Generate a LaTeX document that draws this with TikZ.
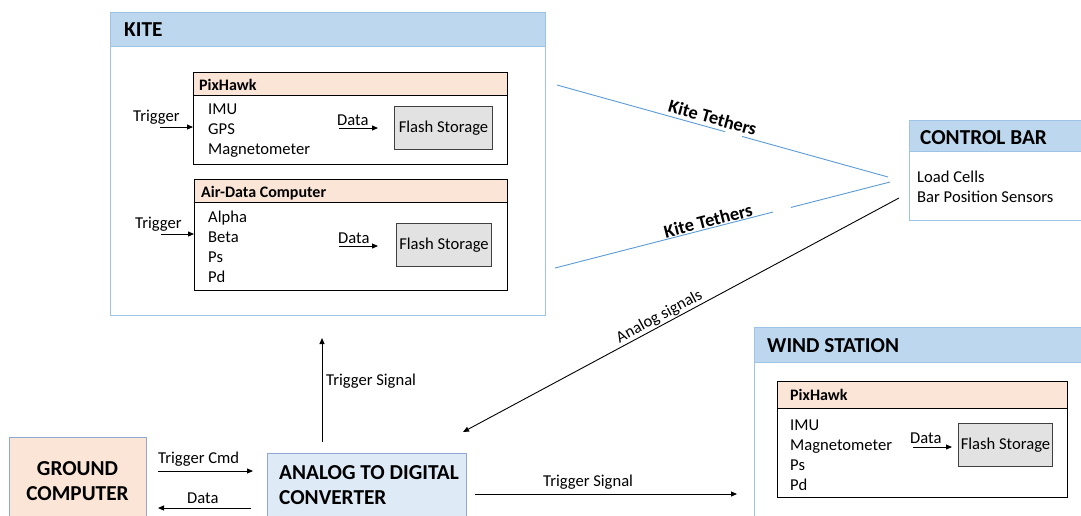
\documentclass[tikz,border=0pt]{standalone}
\usepackage{fontspec}
\setmainfont{Carlito}
\usetikzlibrary{arrows.meta,calc}
\definecolor{headblue}{HTML}{BDD7EE}
\definecolor{panelline}{HTML}{9DC3E6}
\definecolor{peach}{HTML}{FBE5D6}
\definecolor{flashgray}{HTML}{E2E2E2}
\definecolor{flashline}{HTML}{404040}
\definecolor{adcfill}{HTML}{DEEBF7}
\definecolor{adcline}{HTML}{8EA9D4}
\definecolor{tether}{HTML}{5B9BD5}
\tikzset{
  panel/.style={draw=panelline, fill=white, line width=1pt, anchor=north west, inner sep=0pt},
  panelhead/.style={draw=panelline, fill=headblue, line width=1pt, anchor=north west, inner sep=0pt},
  unit/.style={draw=black, fill=white, line width=1.2pt, anchor=north west, inner sep=0pt},
  unithead/.style={draw=black, fill=peach, line width=1.2pt, anchor=north west, inner sep=0pt},
  flashbox/.style={draw=flashline, fill=flashgray, line width=1pt, anchor=north west, inner sep=0pt, font=\fontsize{16.6}{20}\selectfont},
  txt/.style={anchor=base west, inner sep=0pt, font=\fontsize{16.6}{20}\selectfont},
  ttl/.style={anchor=base west, inner sep=0pt, font=\bfseries\fontsize{21.3}{25}\selectfont},
  hdr/.style={anchor=base west, inner sep=0pt, font=\bfseries\fontsize{16}{20}\selectfont},
  arr/.style={line width=0.9pt, -{Triangle[length=6pt,width=5pt]}},
  tline/.style={draw=tether, line width=0.9pt},
  tlabel/.style={font=\bfseries\fontsize{18.5}{22}\selectfont, inner sep=1pt, sloped},
}
\begin{document}
\begin{tikzpicture}[x=1pt,y=-1pt]
\useasboundingbox (0,0) rectangle (1081,515);
\clip (0,0) rectangle (1081,515);

% ---------- KITE ----------
\node[panel, minimum width=435pt, minimum height=303pt] (kite) at (110,12) {};
\node[panelhead, minimum width=435pt, minimum height=34pt] (kitehead) at (110,12) {};
\node[ttl] (kitettl) at (124,36) {KITE};

% PixHawk (kite)
\node[unit, minimum width=314pt, minimum height=92pt] (pix) at (193,72) {};
\node[unithead, minimum width=314pt, minimum height=23pt] (pixhead) at (193,72) {};
\node[hdr] (pixttl) at (199,90) {PixHawk};
\node[txt] (pix1) at (208,114) {IMU};
\node[txt] (pix2) at (208,134) {GPS};
\node[txt] (pix3) at (208,154) {Magnetometer};
\node[flashbox, minimum width=98pt, minimum height=43pt] (flash1) at (394,106) {Flash Storage};
\node[txt] (pixdata) at (337,125) {Data};
\coordinate (pixdataS) at (339,128);
\draw[arr, shorten >=16pt] (pixdataS) -- (pixdataS -| flash1.west);
\node[txt] (pixtrig) at (133,121) {Trigger};
\coordinate (pixtrigS) at (160,127);
\draw[arr] (pixtrigS) -- (pixtrigS -| pix.west);

% Air-Data Computer
\node[unit, minimum width=313pt, minimum height=111pt] (adc) at (194,179) {};
\node[unithead, minimum width=313pt, minimum height=23pt] (adchead) at (194,179) {};
\node[hdr] (adcttl) at (201,197) {Air-Data Computer};
\node[txt] (adc1) at (208,222) {Alpha};
\node[txt] (adc2) at (208,242) {Beta};
\node[txt] (adc3) at (208,262) {Ps};
\node[txt] (adc4) at (208,282) {Pd};
\node[flashbox, minimum width=95pt, minimum height=43pt] (flash2) at (396,223) {Flash Storage};
\node[txt] (adcdata) at (338,243) {Data};
\coordinate (adcdataS) at (339,246);
\draw[arr, shorten >=18pt] (adcdataS) -- (adcdataS -| flash2.west);
\node[txt] (adctrig) at (135,228) {Trigger};
\coordinate (adctrigS) at (161,234);
\draw[arr] (adctrigS) -- (adctrigS -| adc.west);

% ---------- CONTROL BAR ----------
\node[panel, minimum width=200pt, minimum height=100pt] (cbar) at (909,120) {};
\node[panelhead, minimum width=200pt, minimum height=31pt] (cbarhead) at (909,120) {};
\node[ttl] (cbarttl) at (920,144) {CONTROL BAR};
\node[txt] (cbar1) at (917,182) {Load Cells};
\node[txt] (cbar2) at (917,202) {Bar Position Sensors};

% Tethers
\coordinate (t1a) at (557,85);
\coordinate (t1b) at (888,177);
\coordinate (t2a) at (555,268);
\coordinate (t2b) at (890,182);
\draw[tline] (t1a) -- ($(t1a)!0.508!(t1b)$);
\draw[tline] ($(t1a)!0.559!(t1b)$) -- (t1b);
\draw[tline] (t2a) -- ($(t2a)!0.651!(t2b)$);
\draw[tline] ($(t2a)!0.704!(t2b)$) -- (t2b);
\path (t1a) -- node[tlabel, above=2.5pt, pos=0.462] (tl1) {Kite Tethers} (t1b);
\path (t2a) -- node[tlabel, above, pos=0.463] (tl2) {Kite Tethers} (t2b);

% ---------- WIND STATION ----------
\node[panel, minimum width=350pt, minimum height=250pt] (wind) at (754,327) {};
\node[panelhead, minimum width=350pt, minimum height=35pt] (windhead) at (754,327) {};
\node[ttl] (windttl) at (767,352) {WIND STATION};
\node[unit, minimum width=290pt, minimum height=116pt] (wpix) at (777,381) {};
\node[unithead, minimum width=290pt, minimum height=27pt] (wpixhead) at (777,381) {};
\node[hdr] (wpixttl) at (790,400) {PixHawk};
\node[txt] (wp1) at (790,430) {IMU};
\node[txt] (wp2) at (790,450) {Magnetometer};
\node[txt] (wp3) at (790,470) {Ps};
\node[txt] (wp4) at (790,490) {Pd};
\node[flashbox, minimum width=94pt, minimum height=43pt] (flash3) at (958,423) {Flash Storage};
\node[txt] (wpdata) at (910,443) {Data};
\coordinate (wpdataS) at (913,447);
\draw[arr, shorten >=6pt] (wpdataS) -- (wpdataS -| flash3.west);

% ---------- GROUND / ADC ----------
\node[draw=adcline, fill=peach, line width=1pt, anchor=north west, inner sep=0pt,
      minimum width=137pt, minimum height=100pt] (ground) at (9,437) {};
\node[font=\bfseries\fontsize{21.3}{25}\selectfont, anchor=base, inner sep=0pt] (gr1) at (77.5,475) {GROUND};
\node[font=\bfseries\fontsize{21.3}{25}\selectfont, anchor=base, inner sep=0pt] (gr2) at (77.5,500) {COMPUTER};
\node[draw=adcline, fill=adcfill, line width=1pt, anchor=north west, inner sep=0pt,
      minimum width=199pt, minimum height=100pt] (adconv) at (267,453) {};
\node[ttl] (ad1) at (279,479) {ANALOG TO DIGITAL};
\node[ttl] (ad2) at (279,504) {CONVERTER};

\coordinate (tcS) at (158,471);
\coordinate (tcE) at (253,471);
\draw[arr] (tcS) -- (tcE);
\node[txt] (tclbl) at (158,463) {Trigger Cmd};
\coordinate (dS) at (251,508);
\coordinate (dE) at (158,508);
\draw[arr] (dS) -- (dE);
\node[txt] (dlbl) at (187,503) {Data};

\coordinate (tsS) at (322,442);
\coordinate (tsE) at (322,338);
\draw[arr] (tsS) -- (tsE);
\node[txt] (tslbl) at (326,385) {Trigger Signal};

\coordinate (ts2S) at (475,494);
\coordinate (ts2E) at (737,494);
\draw[arr] (ts2S) -- (ts2E);
\node[txt] (ts2lbl) at (543,486) {Trigger Signal};

% Analog signals
\coordinate (asS) at (899,198);
\coordinate (asE) at (463,432);
\draw[arr] (asS) -- node[pos=0.54, sloped, above, inner sep=1pt, font=\fontsize{16.5}{19}\selectfont] (aslbl) {Analog signals} (asE);
\end{tikzpicture}
\end{document}
